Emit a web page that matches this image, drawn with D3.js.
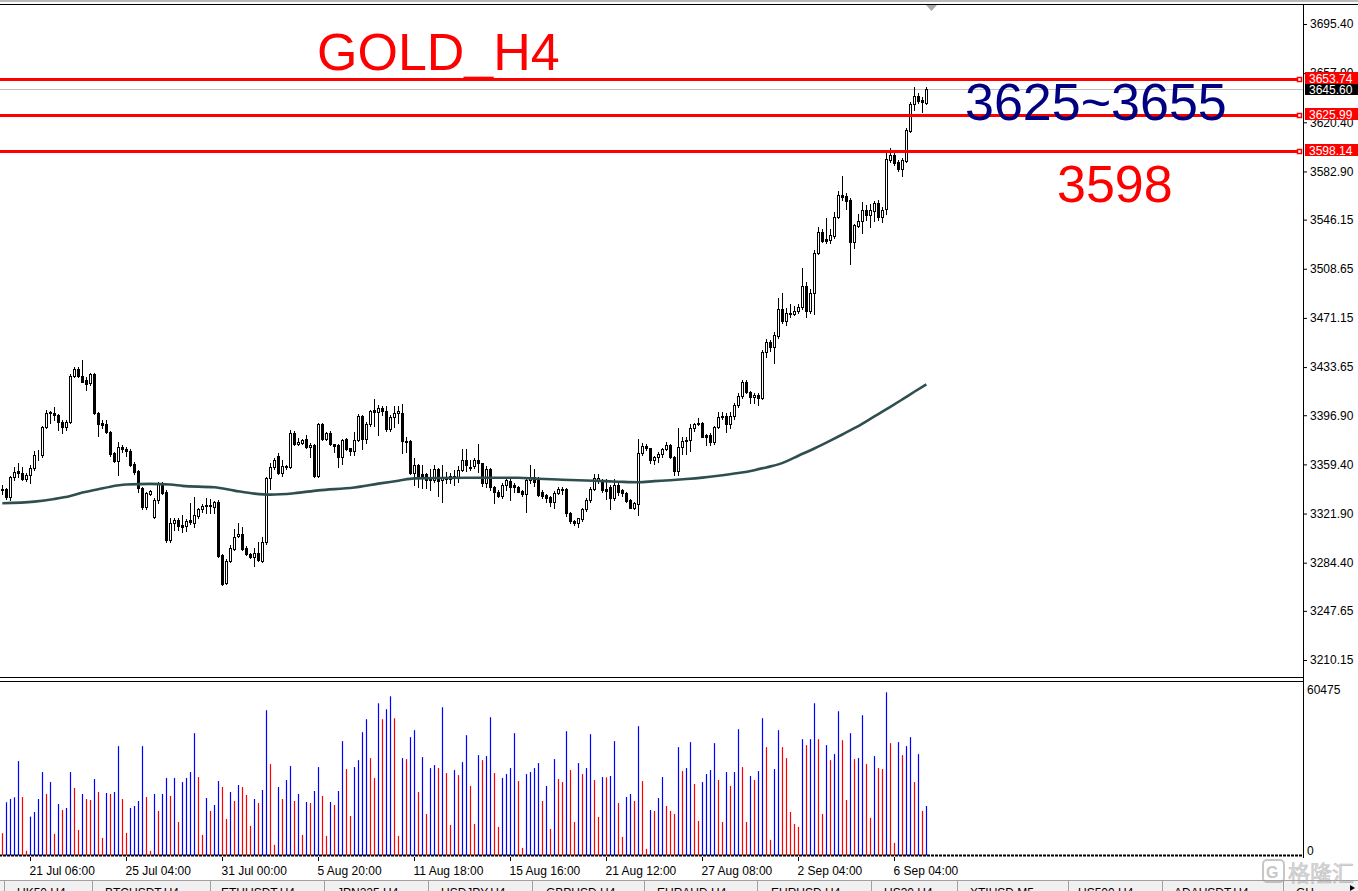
<!DOCTYPE html>
<html><head><meta charset="utf-8">
<script src="https://cdn.jsdelivr.net/npm/d3@7"></script>
<style>html,body{margin:0;padding:0;background:#fff;overflow:hidden}svg{display:block}</style>
</head><body><svg id="c" width="1358" height="891"></svg>
<script>
// ---------------- DATA ----------------
// [open, high, low, close] per H4 bar
const ohlc = [
[3340.0,3343.7,3337.0,3340.3],[3340.4,3341.0,3333.0,3334.3],[3334.3,3350.6,3332.3,3349.6],[3349.6,3357.7,3347.5,3353.9],[3354.6,3360.7,3350.1,3353.1],
[3353.1,3357.2,3347.5,3348.0],[3348.0,3352.5,3347.0,3351.3],[3351.3,3359.0,3345.0,3356.4],[3356.4,3369.6,3355.0,3366.3],[3366.3,3370.4,3362.8,3366.6],
[3366.3,3389.0,3365.0,3388.2],[3388.2,3400.9,3387.0,3398.4],[3399.4,3400.2,3391.3,3398.4],[3398.9,3403.0,3393.3,3396.9],[3396.9,3398.0,3385.7,3392.0],
[3392.0,3393.3,3383.1,3387.7],[3387.7,3393.0,3386.0,3392.0],[3392.0,3428.0,3391.0,3426.9],[3426.9,3434.0,3426.0,3431.9],[3431.9,3433.5,3426.4,3426.9],
[3426.9,3439.1,3422.0,3422.5],[3423.8,3426.4,3416.2,3420.5],[3421.3,3428.9,3420.0,3428.1],[3428.1,3428.9,3398.0,3398.4],[3398.4,3399.0,3381.1,3390.2],
[3391.2,3393.3,3386.9,3389.7],[3390.2,3393.3,3383.0,3383.9],[3383.9,3385.0,3366.0,3367.4],[3367.9,3369.0,3361.0,3362.3],[3362.3,3376.8,3351.3,3372.4],
[3372.4,3374.2,3369.0,3370.9],[3370.9,3373.0,3365.8,3369.4],[3369.9,3371.0,3358.0,3359.0],[3359.7,3361.0,3352.0,3353.9],[3354.1,3355.0,3338.6,3341.2],
[3341.2,3342.0,3325.1,3327.2],[3327.2,3338.6,3325.1,3337.4],[3336.9,3340.0,3336.0,3338.9],[3319.6,3333.5,3318.8,3332.3],[3332.3,3345.7,3329.7,3344.5],
[3344.5,3345.7,3337.0,3337.9],[3338.6,3340.0,3300.0,3301.7],[3301.7,3318.3,3300.0,3314.5],[3314.5,3318.3,3309.4,3317.0],[3317.0,3318.3,3309.4,3312.4],
[3313.2,3320.8,3308.1,3311.9],[3312.4,3318.0,3308.9,3316.5],[3317.0,3329.7,3314.0,3315.7],[3315.0,3334.8,3311.9,3320.6],[3320.1,3326.0,3318.8,3325.1],
[3325.1,3329.2,3323.4,3327.7],[3327.7,3333.5,3322.1,3328.2],[3328.2,3332.8,3322.1,3328.0],[3327.2,3331.5,3322.1,3330.7],[3330.7,3332.0,3289.0,3289.8],
[3290.3,3291.0,3267.5,3268.2],[3268.7,3287.0,3268.0,3285.7],[3285.7,3297.9,3285.0,3295.4],[3294.6,3310.1,3294.1,3304.3],[3304.8,3314.5,3304.0,3306.3],
[3306.3,3311.9,3294.0,3295.1],[3295.6,3297.0,3290.0,3290.8],[3291.1,3292.0,3288.0,3288.5],[3288.5,3295.4,3281.9,3291.6],[3292.1,3300.0,3286.0,3286.5],
[3286.0,3304.3,3285.0,3300.0],[3300.0,3350.0,3299.0,3349.0],[3349.0,3360.7,3340.4,3357.2],[3357.2,3364.0,3356.0,3362.8],[3365.8,3367.9,3352.0,3352.6],
[3352.6,3362.8,3350.6,3358.2],[3358.2,3359.0,3356.0,3357.7],[3357.7,3385.7,3357.0,3383.1],[3383.1,3385.2,3374.0,3374.7],[3374.7,3379.3,3374.0,3376.8],
[3376.0,3379.0,3375.0,3378.0],[3378.5,3381.9,3372.0,3372.4],[3372.4,3375.5,3365.3,3374.0],[3374.2,3375.0,3350.0,3350.6],[3350.6,3391.0,3350.0,3390.2],
[3389.9,3391.2,3378.0,3379.0],[3379.0,3384.3,3378.0,3383.0],[3383.0,3384.8,3374.0,3374.7],[3374.7,3375.0,3369.1,3373.6],[3374.1,3375.0,3357.6,3365.2],
[3365.2,3379.0,3359.7,3378.0],[3378.5,3379.7,3370.0,3371.3],[3371.6,3372.0,3366.5,3369.8],[3369.8,3384.3,3366.5,3378.0],[3378.0,3397.8,3377.0,3396.3],
[3396.3,3397.0,3370.8,3379.0],[3379.0,3391.4,3375.4,3389.9],[3389.9,3401.0,3389.0,3400.1],[3400.8,3409.0,3388.6,3399.6],[3399.3,3404.7,3381.5,3402.1],
[3402.1,3403.9,3397.0,3400.5],[3400.5,3404.0,3385.0,3386.1],[3386.1,3397.0,3385.0,3395.3],[3395.3,3403.9,3388.1,3398.8],[3398.3,3404.0,3391.0,3399.8],
[3398.3,3405.4,3367.8,3377.4],[3377.4,3380.0,3369.0,3376.4],[3377.2,3378.0,3352.0,3353.0],[3353.0,3364.0,3343.6,3358.9],[3358.9,3360.0,3342.4,3349.5],
[3352.0,3358.9,3341.1,3348.7],[3351.8,3353.0,3341.1,3347.4],[3347.4,3355.6,3339.8,3347.9],[3347.4,3358.9,3346.0,3355.6],[3355.6,3357.0,3335.2,3346.9],
[3347.4,3358.9,3330.9,3349.4],[3349.4,3353.8,3345.0,3348.0],[3348.0,3353.0,3345.4,3350.5],[3348.7,3355.1,3343.6,3350.5],[3349.5,3358.0,3346.0,3355.1],
[3355.1,3370.8,3354.0,3362.7],[3362.7,3370.8,3354.6,3358.9],[3357.6,3362.7,3355.0,3356.8],[3358.1,3364.0,3357.0,3362.7],[3362.7,3374.9,3353.8,3360.1],
[3360.1,3360.8,3342.9,3345.4],[3345.4,3358.0,3342.0,3355.6],[3355.6,3357.0,3340.0,3341.9],[3341.9,3343.0,3329.6,3338.5],[3338.5,3340.0,3334.7,3335.2],
[3335.2,3345.0,3334.0,3343.6],[3343.6,3349.5,3339.8,3347.4],[3346.9,3350.0,3332.2,3342.4],[3343.6,3345.0,3338.5,3342.4],[3342.4,3343.0,3338.0,3338.5],
[3339.0,3340.0,3335.0,3336.5],[3336.5,3348.7,3323.3,3347.4],[3347.4,3358.9,3345.0,3349.5],[3349.5,3355.6,3343.0,3346.0],[3347.4,3350.0,3335.0,3336.0],
[3338.0,3340.0,3334.0,3335.2],[3335.7,3337.0,3331.0,3333.4],[3334.7,3335.0,3328.0,3330.9],[3330.9,3339.0,3325.8,3337.8],[3337.8,3342.4,3337.0,3340.6],
[3340.6,3341.8,3337.0,3339.8],[3340.3,3341.0,3320.0,3322.5],[3322.5,3323.0,3315.0,3316.2],[3316.2,3317.0,3313.0,3314.4],[3314.4,3318.0,3311.8,3318.2],
[3317.4,3326.0,3316.0,3325.1],[3325.1,3334.0,3324.0,3332.2],[3332.2,3342.0,3331.0,3340.3],[3340.3,3352.0,3340.0,3348.7],[3347.7,3352.0,3345.0,3348.9],
[3347.4,3348.0,3338.0,3339.8],[3340.6,3348.0,3333.0,3339.3],[3342.4,3344.0,3325.0,3333.4],[3333.4,3348.0,3332.0,3343.6],[3343.6,3345.0,3336.0,3338.5],
[3339.6,3340.5,3335.0,3337.3],[3337.8,3338.5,3331.0,3331.7],[3332.2,3333.0,3326.0,3326.4],[3326.4,3330.5,3325.5,3329.7],[3329.0,3378.5,3320.8,3367.9],
[3367.9,3375.5,3366.5,3373.5],[3373.5,3375.0,3370.0,3371.7],[3371.7,3372.0,3360.7,3362.8],[3362.8,3366.0,3359.7,3364.8],[3364.8,3369.0,3361.5,3367.3],
[3367.3,3372.0,3364.8,3371.2],[3371.2,3376.5,3370.0,3374.2],[3374.2,3375.0,3364.0,3365.3],[3365.3,3366.0,3351.3,3354.6],[3354.6,3387.0,3351.0,3372.4],
[3372.4,3380.1,3367.3,3377.3],[3377.3,3380.0,3367.3,3378.1],[3378.1,3390.0,3369.9,3387.0],[3387.0,3391.2,3385.0,3390.2],[3390.7,3394.5,3389.5,3390.2],
[3390.7,3392.0,3380.0,3380.6],[3381.8,3382.5,3374.0,3380.6],[3381.8,3383.0,3374.0,3376.8],[3376.8,3389.0,3375.0,3388.2],[3388.2,3399.1,3387.5,3395.8],
[3395.8,3399.0,3394.0,3396.6],[3396.3,3398.4,3384.4,3390.0],[3390.0,3399.0,3386.9,3396.3],[3396.3,3406.0,3393.8,3404.7],[3404.7,3413.6,3403.0,3411.6],
[3411.6,3423.8,3409.8,3422.3],[3422.3,3423.5,3414.0,3414.9],[3414.9,3415.5,3406.0,3410.6],[3410.6,3413.6,3406.0,3412.0],[3412.0,3414.0,3405.0,3410.0],
[3410.0,3446.7,3409.5,3445.4],[3445.4,3454.8,3441.1,3453.0],[3453.0,3454.3,3446.2,3449.2],[3449.2,3460.7,3437.0,3458.1],[3457.6,3486.1,3456.0,3477.7],
[3477.7,3490.4,3467.0,3469.1],[3469.1,3478.5,3465.8,3475.2],[3474.2,3481.5,3472.0,3475.2],[3474.5,3480.3,3473.0,3476.7],[3476.7,3481.5,3474.6,3479.2],
[3479.2,3509.0,3478.0,3495.5],[3495.5,3498.8,3472.1,3476.7],[3476.7,3493.0,3474.6,3490.4],[3490.4,3523.0,3474.1,3520.9],[3520.9,3540.8,3519.9,3537.0],
[3537.0,3538.8,3529.3,3530.1],[3531.1,3547.6,3528.1,3530.1],[3530.6,3538.8,3528.6,3534.4],[3533.9,3552.2,3531.9,3547.9],[3547.9,3568.2,3547.1,3564.7],
[3564.7,3579.4,3561.1,3563.7],[3564.2,3566.2,3554.0,3560.6],[3561.1,3562.4,3512.0,3529.3],[3529.3,3543.0,3524.7,3542.0],[3541.3,3550.4,3540.8,3545.4],
[3545.4,3559.3,3535.7,3553.5],[3553.5,3557.3,3545.9,3549.7],[3549.7,3558.0,3540.3,3553.5],[3553.0,3560.0,3545.0,3559.1],[3559.1,3561.0,3546.0,3547.9],
[3548.4,3556.0,3544.6,3553.5],[3554.0,3599.3,3550.5,3592.2],[3591.6,3600.5,3590.0,3595.5],[3595.5,3597.0,3588.0,3589.6],[3590.4,3591.5,3583.0,3584.5],
[3584.5,3593.0,3579.4,3591.6],[3591.1,3615.8,3590.0,3614.5],[3613.8,3636.1,3613.0,3634.4],[3634.4,3647.6,3629.8,3640.5],[3640.5,3643.0,3635.4,3636.9],
[3637.4,3639.5,3628.5,3636.1],[3635.4,3647.6,3634.4,3645.6]
];

const volumes = [
7785,18592,19754,20335,33001,20451,1627,13595,15222,19754,
29166,21497,25680,7553,18011,15919,16617,29166,23589,8947,
21497,19754,19405,26726,22194,6159,21846,21497,22194,38230,
19754,7902,16617,17314,19057,38230,20451,1627,21497,15571,
21497,27075,20800,27075,11736,25680,27075,29166,42762,27423,
7204,20103,15571,17662,26029,23937,12782,22194,19057,24634,
23937,21148,10342,19754,18360,22891,50779,31955,3718,23937,
19754,26377,31258,19057,21497,7204,18708,18360,22543,30909,
20800,6856,18708,17662,22543,39973,30212,13828,30909,33349,
43110,47642,34047,27075,53220,47642,51128,55660,47991,6856,
34047,33698,41367,43807,22194,34395,14525,30561,31606,30561,
51825,28818,10690,29863,28120,32652,42064,24286,11039,35092,
33349,34744,48339,28818,9993,27075,28469,30561,42762,26029,
2673,28469,29166,30561,32304,19057,24286,9296,33698,26726,
25680,43459,29863,11736,32304,28469,30561,42413,26377,13479,
27423,27300,27772,39973,18360,6507,20451,21497,19057,45202,
26029,2324,15919,15571,20103,27423,17314,15571,14525,37881,
29515,30561,39624,24983,12085,25680,28469,29863,39276,26377,
11736,29166,24286,29166,44156,30909,11736,27772,26377,29515,
47991,37881,5461,30212,43807,37881,34047,15222,11039,9993,
40670,38578,40670,53220,40670,14525,38578,33349,35441,50431,
40321,19405,42762,33698,34047,49036,31955,13131,34744,30561,
30212,57054,39276,4416,39624,35092,38230,41367,25680,35441,
15571,17314
];

// moving average read at bar positions
const maIndex = [0,8,13,17,20,24,27,31,37,42,45,53,58,63,67,73,79,88,94,99,103,116,129,134,140,148,154,159,163,167,171,175,179,184,188,191,194,196,199,203,207,210,213,216,219,222,225,228,231];
const maValue = [3329.7,3331.0,3333.0,3335.3,3337.9,3340.4,3342.4,3344.0,3344.5,3344.0,3343.0,3341.9,3339.4,3337.1,3336.3,3337.4,3339.6,3341.8,3344.7,3346.9,3348.7,3349.2,3349.2,3348.4,3347.7,3346.9,3346.2,3345.8,3346.6,3347.3,3348.2,3349.3,3350.7,3352.8,3355.0,3357.1,3359.4,3361.7,3366.0,3371.5,3377.5,3382.2,3387.0,3392.3,3397.8,3403.3,3409.0,3414.8,3420.5];

const priceTicks = [3695.40,3657.90,3620.40,3582.90,3546.15,3508.65,3471.15,3433.65,3396.90,3359.40,3321.90,3284.40,3247.65,3210.15];
const timeTickIndex = [7,31,55,79,103,127,151,175,199,223];
const timeTickLabels = ["21 Jul 06:00","25 Jul 04:00","31 Jul 00:00","5 Aug 20:00","11 Aug 18:00","15 Aug 16:00","21 Aug 12:00","27 Aug 08:00","2 Sep 04:00","6 Sep 04:00"];
const levelValues = [3653.74, 3625.99, 3598.14];
const bidPrice = 3645.60;
const volumeMax = 60475;
const tabLabels = ["UK50,H4","BTCUSDT,H4","ETHUSDT,H4","JPN225,H4","USDJPY,H4","GBPUSD,H4","EURAUD,H4","EURUSD,H4","US30,H4","XTIUSD,M5","US500,H4","ADAUSDT,H4","GH..."];
const titleText = "GOLD_H4";
const zoneText = "3625~3655";
const supportText = "3598";

// ---------------- DRAW ----------------
const svg = d3.select('#c');
const FONT = '"Liberation Sans", Arial, sans-serif';
const AX = 1303; // price axis x
const x = d3.scaleLinear().domain([0, ohlc.length - 1]).range([2.33, 926.33]);
const y = d3.scaleLinear().domain([3210.15, 3695.40]).range([660, 24]);
const yv = d3.scaleLinear().domain([0, volumeMax]).range([855.5, 682.5]);
const px = i => Math.round(x(i)) + 0.5;

svg.append('rect').attr('width',1358).attr('height',891).attr('fill','#fff');

// frame lines
svg.append('rect').attr('x',0).attr('y',0).attr('width',1358).attr('height',2).attr('fill','#b9b9b9');
const frame = svg.append('g').attr('stroke','#000').attr('stroke-width',1);
frame.append('line').attr('x1',0).attr('x2',1358).attr('y1',4.5).attr('y2',4.5);
frame.append('line').attr('x1',AX+0.5).attr('x2',AX+0.5).attr('y1',4).attr('y2',858);
frame.append('line').attr('x1',0).attr('x2',AX).attr('y1',677.5).attr('y2',677.5);
frame.append('line').attr('x1',0).attr('x2',AX).attr('y1',681.5).attr('y2',681.5);

// chart shift marker
svg.append('path').attr('d','M926,5 L937,5 L931.5,11 Z').attr('fill','#a9a9a9');

// bid line
svg.append('line').attr('x1',0).attr('x2',AX).attr('y1',Math.round(y(bidPrice))+0.5).attr('y2',Math.round(y(bidPrice))+0.5)
  .attr('stroke','#c0c0c0').attr('stroke-width',1);

// candles
const cg = svg.append('g');
cg.selectAll('line').data(ohlc).join('line')
  .attr('x1',(d,i)=>px(i)).attr('x2',(d,i)=>px(i))
  .attr('y1',d=>Math.round(y(d[1]))).attr('y2',d=>Math.round(y(d[2]))+1)
  .attr('stroke','#000').attr('stroke-width',1);
cg.selectAll('rect').data(ohlc).join('rect')
  .attr('x',(d,i)=>px(i)-1).attr('width',2)
  .attr('y',d=>Math.round(y(Math.max(d[0],d[3])))+0.5)
  .attr('height',d=>Math.max(0, Math.round(y(Math.min(d[0],d[3]))) - Math.round(y(Math.max(d[0],d[3])))))
  .attr('fill',d=>d[3]>=d[0]?'#fff':'#000')
  .attr('stroke','#000').attr('stroke-width',1);

// moving average
const maLine = d3.line().x(d=>x(d[0])).y(d=>y(d[1])).curve(d3.curveMonotoneX);
svg.append('path').datum(maIndex.map((k,j)=>[k,maValue[j]]))
  .attr('d',maLine).attr('fill','none').attr('stroke','#2f4f4f').attr('stroke-width',2.6);

// volumes
const vg = svg.append('g');
vg.selectAll('line').data(volumes).join('line')
  .attr('x1',(d,i)=>px(i)).attr('x2',(d,i)=>px(i))
  .attr('y1',yv(0)).attr('y2',d=>yv(d))
  .attr('stroke',(d,i)=> (i>0 && d>volumes[i-1]) ? '#0000ff' : '#ff0000')
  .attr('stroke-width',1.2);
svg.append('line').attr('x1',0).attr('x2',AX).attr('y1',855.5).attr('y2',855.5)
  .attr('stroke','#000').attr('stroke-width',2).attr('stroke-dasharray','3,1').attr('stroke-dashoffset',-3);

// price axis
const yAxis = d3.axisRight(y).tickValues(priceTicks).tickFormat(d3.format('.2f')).tickSize(4).tickPadding(3);
const ya = svg.append('g').attr('transform',`translate(${AX},0)`).call(yAxis);
ya.select('.domain').remove();
ya.selectAll('text').attr('font-family',FONT).attr('font-size',12).attr('fill','#000');
ya.selectAll('line').attr('stroke','#000');

// volume axis labels
svg.append('text').attr('x',1307).attr('y',694).attr('font-family',FONT).attr('font-size',12).text(d3.format('d')(volumeMax));
svg.append('text').attr('x',1307).attr('y',855).attr('font-family',FONT).attr('font-size',12).text('0');

// time axis
const xAxis = d3.axisBottom(x).tickValues(timeTickIndex).tickFormat((d,j)=>timeTickLabels[j]).tickSize(4).tickPadding(5);
const xa = svg.append('g').attr('transform','translate(0,857)').call(xAxis);
xa.select('.domain').remove();
xa.selectAll('.tick').attr('transform',d=>`translate(${px(d)},0)`);
xa.selectAll('line').attr('stroke','#000');
xa.selectAll('text').attr('font-family',FONT).attr('font-size',12).attr('fill','#000').attr('text-anchor','start').attr('x',-1);

// level lines
const lg = svg.append('g');
levelValues.forEach(v=>{
  const ly = Math.round(y(v)) + 0.5;
  lg.append('line').attr('x1',0).attr('x2',1297).attr('y1',ly).attr('y2',ly).attr('stroke','#ff0000').attr('stroke-width',3);
  lg.append('rect').attr('x',1297.5).attr('y',ly-2).attr('width',4).attr('height',4).attr('fill','#fff').attr('stroke','#ff0000').attr('stroke-width',1.5);
});

// bid label
const by = y(bidPrice);
svg.append('rect').attr('x',1305).attr('y',Math.round(by)-6).attr('width',53).attr('height',12).attr('fill','#000');
svg.append('text').attr('x',1309).attr('y',Math.round(by)+4.5).attr('font-family',FONT).attr('font-size',12).attr('fill','#fff').text(d3.format('.2f')(bidPrice));

// level labels
levelValues.forEach(v=>{
  const ly = Math.round(y(v));
  svg.append('rect').attr('x',1305).attr('y',ly-7).attr('width',53).attr('height',12).attr('fill','#ff0000');
  svg.append('text').attr('x',1309).attr('y',ly+3.5).attr('font-family',FONT).attr('font-size',12).attr('fill','#fff').text(d3.format('.2f')(v));
});

// annotation texts
svg.append('text').attr('x',317).attr('y',70).attr('font-family',FONT).attr('font-size',52).attr('fill','#ff0000').text(titleText);
svg.append('text').attr('x',965).attr('y',120).attr('font-family',FONT).attr('font-size',52).attr('fill','#000080').text(zoneText);
svg.append('text').attr('x',1057).attr('y',202).attr('font-family',FONT).attr('font-size',52).attr('fill','#ff0000').text(supportText);

// tab bar
const tabX = [17,105,221,337,441,546,657,771,884,970,1078,1174,1296];
const sepX = [4,92,210,324,428,532,644,757,871,957,1068,1162,1283];
svg.append('rect').attr('x',0).attr('y',880).attr('width',1358).attr('height',11).attr('fill','#f0f0f0');
svg.append('line').attr('x1',0).attr('x2',1358).attr('y1',880.5).attr('y2',880.5).attr('stroke','#a0a0a0');
sepX.forEach(sx=>svg.append('line').attr('x1',sx+0.5).attr('x2',sx+0.5).attr('y1',881).attr('y2',891).attr('stroke','#a0a0a0'));
tabLabels.forEach((t,j)=>svg.append('text').attr('x',tabX[j]).attr('y',897).attr('font-family',FONT).attr('font-size',12).attr('fill','#000').text(t));
svg.append('path').attr('d','M1350,885 L1355,888 L1350,891 Z').attr('fill','#000');

// watermark
const wm = svg.append('g').attr('opacity',0.55);
wm.append('rect').attr('x',1263).attr('y',860).attr('width',21).attr('height',22).attr('rx',4).attr('fill','none').attr('stroke','#9a9a9a').attr('stroke-width',2);
wm.append('text').attr('x',1266).attr('y',878).attr('font-family',FONT).attr('font-weight','bold').attr('font-size',16).attr('fill','#9a9a9a').text('G');
wm.append('text').attr('x',1288).attr('y',881).attr('font-family','"Noto Sans CJK SC", sans-serif').attr('font-size',22).attr('fill','#bdbdbd').attr('stroke','#8f8f8f').attr('stroke-width',0.6).text('格隆汇');
</script></body></html>
